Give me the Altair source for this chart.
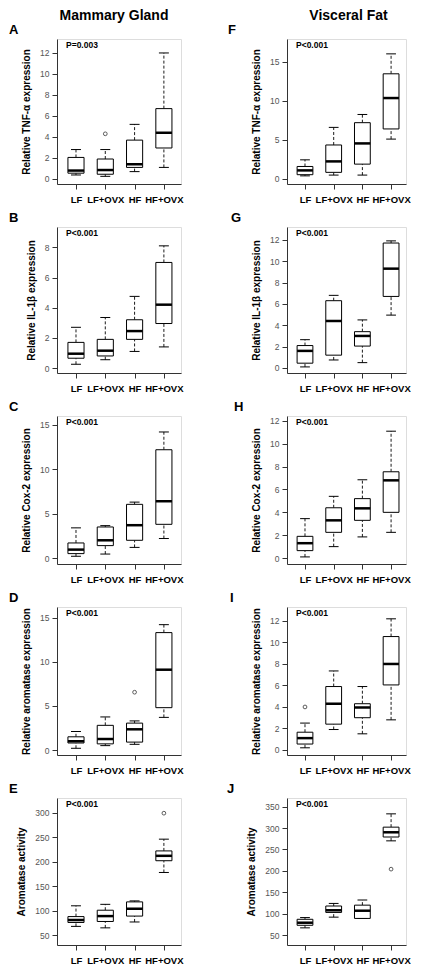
import altair as alt
import pandas as pd

groups = ["LF", "LF+OVX", "HF", "HF+OVX"]
positions = [1, 2, 3, 4]

# each row: lower whisker, Q1, median, Q3, upper whisker
A_stats = [[0.38, 0.55, 0.8, 2.05, 2.8], [0.25, 0.45, 0.85, 1.9, 2.8],
           [0.7, 1.1, 1.4, 3.7, 5.2], [1.1, 2.95, 4.4, 6.7, 12.0]]
A_out = [[2, 4.3]]
B_stats = [[0.25, 0.65, 0.95, 1.7, 2.7], [0.55, 0.8, 1.15, 1.9, 3.35],
           [1.1, 1.9, 2.45, 3.2, 4.75], [1.4, 2.95, 4.2, 7.0, 8.1]]
B_out = []
C_stats = [[0.2, 0.5, 0.95, 1.7, 3.4], [0.45, 1.4, 2.0, 3.5, 3.65],
           [1.2, 2.0, 3.7, 6.05, 6.3], [2.2, 3.8, 6.4, 12.2, 14.2]]
C_out = []
D_stats = [[0.2, 0.8, 1.0, 1.5, 2.1], [0.5, 0.7, 1.25, 2.8, 3.75],
           [0.65, 0.9, 2.35, 3.05, 3.3], [3.7, 4.8, 9.1, 13.3, 14.2]]
D_out = [[3, 6.55]]
E_stats = [[68, 76, 81, 88, 110], [65, 78, 89, 101, 113],
           [77, 89, 104, 118, 120], [178, 202, 212, 222, 246]]
E_out = [[4, 299]]
F_stats = [[0.4, 0.55, 1.1, 1.6, 2.45], [0.5, 0.85, 2.25, 4.35, 6.6],
           [0.5, 1.9, 4.55, 7.2, 8.25], [5.1, 6.4, 10.35, 13.45, 16.0]]
F_out = []
G_stats = [[0.1, 0.45, 1.6, 2.1, 2.65], [0.75, 1.2, 4.4, 6.3, 6.8],
           [0.5, 2.05, 3.0, 3.4, 4.5], [4.95, 6.7, 9.3, 11.7, 11.9]]
G_out = []
H_stats = [[0.1, 0.65, 1.3, 1.9, 3.45], [1.0, 2.25, 3.3, 4.4, 5.4],
           [1.85, 3.3, 4.35, 5.2, 6.85], [2.25, 4.0, 6.8, 7.55, 11.1]]
H_out = []
I_stats = [[0.2, 0.55, 1.1, 1.65, 2.5], [1.9, 2.4, 4.3, 5.9, 7.35],
           [1.5, 3.0, 3.95, 4.3, 5.9], [2.8, 6.05, 8.0, 10.55, 12.2]]
I_out = [[1, 4.0]]
J_stats = [[67, 73, 79, 87, 91], [92, 103, 108, 118, 124],
           [89, 89, 107, 120, 132], [270, 279, 290, 302, 333]]
J_out = [[4, 204]]

FONT = "Liberation Sans"
label_expr = " : ".join(f"datum.value == {p} ? '{g}'" for p, g in zip(positions, groups)) + " : ''"

LEFT_W, RIGHT_W = 124, 119
ROW_H = [145, 146, 148, 148, 147]
LEFT_XDOM = [0.352, 4.584]
RIGHT_XDOM = [0.373, 4.52]


def panel(letter, ytitle, stats, outs, pval, ticks, ydom, xdom, width, height,
          letter_dx, header=None, header_dx=0):
    df = pd.DataFrame({
        "pos": positions, "grp": groups,
        "lo": [s[0] for s in stats], "q1": [s[1] for s in stats],
        "med": [s[2] for s in stats], "q3": [s[3] for s in stats],
        "hi": [s[4] for s in stats],
    })
    xs = alt.Scale(domain=xdom, nice=False, zero=False)
    ys = alt.Scale(domain=ydom, nice=False, zero=False)
    xax = alt.Axis(values=positions, labelExpr=label_expr, title=None, grid=False,
                   labelFont=FONT, labelFontSize=9.5, labelFontWeight="bold",
                   labelColor="black", tickSize=5, tickColor="#333",
                   domainColor="#333", labelPadding=5, labelOverlap=False,
                   labelFlush=False)
    yax = alt.Axis(values=ticks, title=ytitle, grid=False, titleFont=FONT,
                   titleFontSize=10, titleFontWeight="bold", titleColor="black",
                   labelFont=FONT, labelFontSize=8.5, labelColor="#555",
                   tickSize=5, tickColor="#333", domainColor="#333",
                   labelPadding=3, titlePadding=8)
    base = alt.Chart(df).transform_calculate(
        bl="datum.pos - 0.275", br="datum.pos + 0.275",
        cl="datum.pos - 0.17", cr="datum.pos + 0.17")
    whisk_lo = base.mark_rule(color="black", strokeWidth=0.9, strokeDash=[3, 2]).encode(
        x=alt.X("pos:Q", scale=xs, axis=xax), y=alt.Y("lo:Q", scale=ys, axis=yax), y2="q1:Q")
    whisk_hi = base.mark_rule(color="black", strokeWidth=0.9, strokeDash=[3, 2]).encode(
        x=alt.X("pos:Q", scale=xs, axis=xax), y=alt.Y("q3:Q", scale=ys, axis=yax), y2="hi:Q")
    cap_lo = base.mark_rule(color="black", strokeWidth=1).encode(
        x=alt.X("cl:Q", scale=xs, axis=xax), x2="cr:Q", y=alt.Y("lo:Q", scale=ys, axis=yax))
    cap_hi = base.mark_rule(color="black", strokeWidth=1).encode(
        x=alt.X("cl:Q", scale=xs, axis=xax), x2="cr:Q", y=alt.Y("hi:Q", scale=ys, axis=yax))
    box = base.mark_rect(fill="white", stroke="black", strokeWidth=1).encode(
        x=alt.X("bl:Q", scale=xs, axis=xax), x2="br:Q",
        y=alt.Y("q1:Q", scale=ys, axis=yax), y2="q3:Q")
    med = base.mark_rule(color="black", strokeWidth=2.5).encode(
        x=alt.X("bl:Q", scale=xs, axis=xax), x2="br:Q", y=alt.Y("med:Q", scale=ys, axis=yax))
    layers = [whisk_lo, whisk_hi, cap_lo, cap_hi, box, med]
    if outs:
        odf = pd.DataFrame({"pos": [o[0] for o in outs], "val": [o[1] for o in outs]})
        layers.append(alt.Chart(odf).mark_point(shape="circle", filled=False, size=14,
                                                strokeWidth=0.9, color="black").encode(
            x=alt.X("pos:Q", scale=xs, axis=xax), y=alt.Y("val:Q", scale=ys, axis=yax)))
    pdf = pd.DataFrame({"p": [pval]})
    layers.append(alt.Chart(pdf).mark_text(align="left", baseline="middle", font=FONT,
                                           fontSize=8.5, fontWeight="bold", color="black").encode(
        text="p:N", x=alt.value(9), y=alt.value(6)))
    ldf = pd.DataFrame({"l": [letter]})
    layers.append(alt.Chart(ldf).mark_text(align="left", baseline="middle", font=FONT,
                                           fontSize=13, fontWeight="bold", color="black").encode(
        text="l:N", x=alt.value(letter_dx), y=alt.value(-9)))
    props = dict(width=width, height=height)
    if header:
        props["title"] = alt.TitleParams(header, anchor="middle", frame="group", dx=header_dx,
                                         font=FONT, fontSize=14, fontWeight="bold",
                                         color="black", offset=1)
    return alt.layer(*layers).properties(**props)


tnf = "Relative TNF-\u03b1 expression"
il1 = "Relative IL-1\u03b2 expression"
cox = "Relative Cox-2 expression"
aro = "Relative aromatase expression"
act = "Aromatase activity"

pA = panel("A", tnf, A_stats, A_out, "P=0.003", [0, 2, 4, 6, 8, 10, 12], [-0.48, 13.33],
           LEFT_XDOM, LEFT_W, ROW_H[0], -48, header="Mammary Gland", header_dx=-5)
pB = panel("B", il1, B_stats, B_out, "P<0.001", [0, 2, 4, 6, 8], [-0.33, 9.35],
           LEFT_XDOM, LEFT_W, ROW_H[1], -48)
pC = panel("C", cox, C_stats, C_out, "P<0.001", [0, 5, 10, 15], [-0.67, 16.0],
           LEFT_XDOM, LEFT_W, ROW_H[2], -48)
pD = panel("D", aro, D_stats, D_out, "P<0.001", [0, 5, 10, 15], [-0.56, 16.2],
           LEFT_XDOM, LEFT_W, ROW_H[3], -48)
pE = panel("E", act, E_stats, E_out, "P<0.001", [50, 100, 150, 200, 250, 300], [30, 330],
           LEFT_XDOM, LEFT_W, ROW_H[4], -48)
pF = panel("F", tnf, F_stats, F_out, "P<0.001", [0, 5, 10, 15], [-0.64, 17.9],
           RIGHT_XDOM, RIGHT_W, ROW_H[0], -59, header="Visceral Fat", header_dx=2)
pG = panel("G", il1, G_stats, G_out, "P<0.001", [0, 2, 4, 6, 8, 10, 12], [-0.47, 13.2],
           RIGHT_XDOM, RIGHT_W, ROW_H[1], -56)
pH = panel("H", cox, H_stats, H_out, "P<0.001", [0, 2, 4, 6, 8, 10, 12], [-0.52, 12.43],
           RIGHT_XDOM, RIGHT_W, ROW_H[2], -53)
pI = panel("I", aro, I_stats, I_out, "P<0.001", [0, 2, 4, 6, 8, 10, 12], [-0.47, 13.3],
           RIGHT_XDOM, RIGHT_W, ROW_H[3], -57)
pJ = panel("J", act, J_stats, J_out, "P<0.001", [50, 100, 150, 200, 250, 300, 350], [27, 370],
           RIGHT_XDOM, RIGHT_W, ROW_H[4], -60)

chart = alt.concat(pA, pF, pB, pG, pC, pH, pD, pI, pE, pJ, columns=2, bounds="flush",
                   spacing={"row": 43, "column": 106}).properties(
    padding={"left": 0, "top": 0, "right": 0, "bottom": 0}
).configure_view(stroke=None).configure(background="white")

chart.save("out.html", embed_options={"renderer": "svg", "actions": False})
